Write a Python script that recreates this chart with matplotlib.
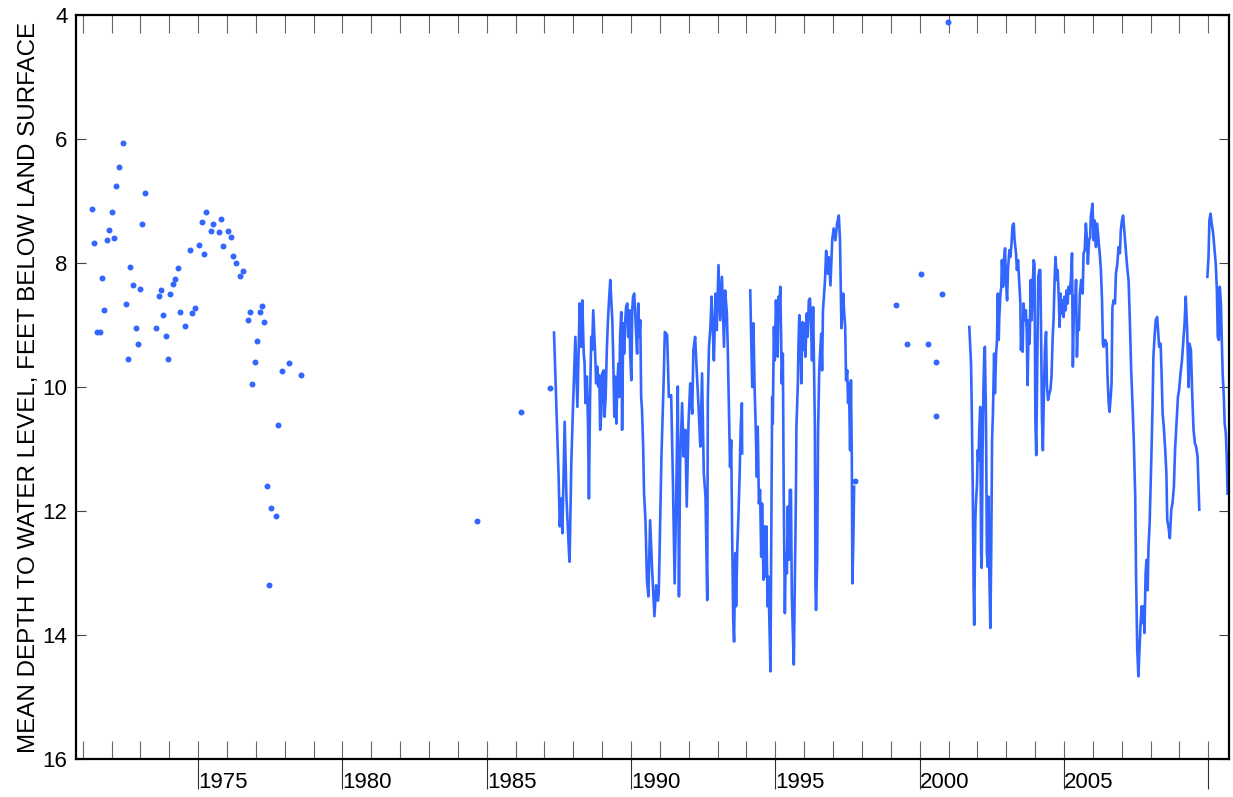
import numpy as np
import matplotlib.pyplot as plt
from matplotlib.ticker import FixedLocator, MultipleLocator

plt.rcParams['font.family'] = ['Liberation Sans', 'DejaVu Sans']

# periodic (discrete) measurements
point_years = [1971.33, 1971.40, 1971.48, 1971.59, 1971.66, 1971.75, 1971.83, 1971.91, 1972.00, 1972.08,
               1972.17, 1972.26, 1972.39, 1972.49, 1972.57, 1972.65, 1972.75, 1972.84, 1972.92, 1972.98,
               1973.07, 1973.16, 1973.54, 1973.63, 1973.72, 1973.79, 1973.88, 1973.95, 1974.04, 1974.13,
               1974.20, 1974.30, 1974.38, 1974.55, 1974.70, 1974.79, 1974.89, 1975.03, 1975.12, 1975.20,
               1975.28, 1975.46, 1975.53, 1975.71, 1975.80, 1975.87, 1976.04, 1976.13, 1976.21, 1976.32,
               1976.44, 1976.57, 1976.71, 1976.79, 1976.86, 1976.96, 1977.03, 1977.13, 1977.20, 1977.29,
               1977.38, 1977.46, 1977.53, 1977.71, 1977.78, 1977.89, 1978.14, 1978.55,
               1984.65, 1986.17, 1987.18, 1997.76,
               1999.17, 1999.56, 2000.03, 2000.30, 2000.58, 2000.58, 2000.78, 2000.99]
point_depths = [7.13, 7.68, 9.11, 9.11, 8.24, 8.75, 7.63, 7.46, 7.18, 7.60,
                6.75, 6.45, 6.06, 8.66, 9.55, 8.06, 8.35, 9.05, 9.30, 8.41,
                7.36, 6.86, 9.04, 8.53, 8.43, 8.83, 9.17, 9.54, 8.49, 8.34,
                8.25, 8.07, 8.79, 9.02, 7.78, 8.81, 8.73, 7.71, 7.33, 7.85,
                7.18, 7.48, 7.37, 7.49, 7.28, 7.72, 7.48, 7.57, 7.88, 7.99,
                8.20, 8.12, 8.92, 8.78, 9.95, 9.60, 9.25, 8.79, 8.69, 8.95,
                11.59, 13.20, 11.95, 12.08, 10.61, 9.74, 9.61, 9.81,
                12.16, 10.40, 10.01, 11.52,
                8.67, 9.31, 8.17, 9.30, 9.59, 10.47, 8.50, 4.10]

# continuous record, split where the record has gaps
seg_a_years = [1987.33, 1987.47, 1987.49, 1987.53, 1987.58, 1987.62, 1987.70, 1987.76, 1987.85, 1987.87,
               1987.93, 1987.99, 1988.07, 1988.14,
               1988.22, 1988.27, 1988.31, 1988.36, 1988.39, 1988.42, 1988.47, 1988.51, 1988.54, 1988.58,
               1988.62, 1988.65, 1988.69, 1988.72, 1988.76, 1988.79, 1988.83, 1988.86, 1988.90, 1988.93,
               1988.97, 1989.00, 1989.05, 1989.08, 1989.12, 1989.16, 1989.20, 1989.23, 1989.28, 1989.31,
               1989.35, 1989.38, 1989.42, 1989.45, 1989.49, 1989.52, 1989.56, 1989.59, 1989.62, 1989.66,
               1989.69, 1989.73, 1989.76, 1989.80, 1989.83, 1989.87, 1989.90, 1989.94, 1989.97, 1990.01,
               1990.04, 1990.07, 1990.11, 1990.14, 1990.18, 1990.21, 1990.25, 1990.28, 1990.32, 1990.35,
               1990.38, 1990.42,
               1990.45, 1990.50, 1990.55, 1990.60, 1990.66, 1990.73,
               1990.81, 1990.87, 1990.93, 1990.96, 1991.05, 1991.13, 1991.17, 1991.25, 1991.31, 1991.39,
               1991.45, 1991.51, 1991.56, 1991.62, 1991.66, 1991.70, 1991.77, 1991.82, 1991.88, 1991.93,
               1991.99, 1992.05, 1992.12, 1992.16, 1992.22, 1992.28, 1992.35, 1992.40, 1992.46, 1992.52,
               1992.58, 1992.64, 1992.66, 1992.70, 1992.75, 1992.79, 1992.83, 1992.87, 1992.93, 1992.97,
               1993.03, 1993.09, 1993.15, 1993.18, 1993.22, 1993.26, 1993.32, 1993.35, 1993.39, 1993.43,
               1993.47, 1993.50, 1993.54, 1993.57, 1993.61, 1993.64, 1993.68, 1993.72, 1993.76, 1993.80,
               1993.84, 1993.85]
seg_a_depths = [9.12, 11.18, 11.45, 12.25, 11.80, 12.36, 10.56, 11.77, 12.68, 12.82,
                11.23, 10.29, 9.19, 10.32,
                8.65, 9.35, 8.60, 9.46, 9.62, 10.26, 9.83, 10.64, 11.80, 10.16,
                9.19, 9.40, 8.76, 9.08, 9.51, 9.94, 9.67, 9.99, 9.81, 10.69,
                10.42, 9.78, 9.73, 10.48, 10.16, 9.40, 8.92, 8.65, 8.27, 8.54,
                8.92, 9.46, 10.48, 9.83, 10.59, 9.99, 9.62, 10.16, 9.19, 8.79,
                10.69, 8.97, 9.46, 8.92, 8.70, 8.65, 9.19, 8.76, 9.46, 9.89,
                8.76, 8.54, 8.49, 8.76, 9.19, 9.46, 8.65, 9.19, 8.92, 10.16,
                10.37, 10.96,
                11.72, 12.15, 13.11, 13.38, 12.15, 12.95,
                13.70, 13.20, 13.45, 13.33, 11.18, 9.89, 9.11, 9.16, 10.16, 10.13,
                11.50, 13.17, 11.93, 9.99, 13.38, 11.23, 10.26, 11.12, 10.69, 11.93,
                10.59, 9.94, 10.43, 9.40, 9.19, 9.78, 10.43, 10.96, 9.78, 11.39,
                11.77, 13.44, 10.21, 9.35, 9.03, 8.54, 9.03, 9.57, 8.49, 9.08,
                8.03, 8.92, 8.22, 8.71, 9.35, 8.44, 8.81, 9.35, 10.32, 11.29,
                10.86, 12.25, 13.76, 14.11, 12.68, 13.54, 12.63, 12.09, 11.45, 10.64,
                10.26, 11.07]

seg_b_years = [1994.13, 1994.16, 1994.20, 1994.24, 1994.28, 1994.31, 1994.36, 1994.39, 1994.43, 1994.47,
               1994.51, 1994.54, 1994.59, 1994.62, 1994.66, 1994.69, 1994.73, 1994.76, 1994.80, 1994.83,
               1994.87, 1994.89, 1994.91, 1994.95, 1994.98, 1995.02, 1995.05, 1995.08, 1995.11, 1995.14,
               1995.17, 1995.20, 1995.22, 1995.26, 1995.29, 1995.33, 1995.36, 1995.40, 1995.43, 1995.47,
               1995.50, 1995.54, 1995.57, 1995.60, 1995.64, 1995.67, 1995.70, 1995.72, 1995.73, 1995.78,
               1995.80, 1995.83, 1995.87, 1995.90, 1995.94, 1995.97, 1996.01, 1996.04, 1996.09, 1996.12,
               1996.16, 1996.20, 1996.24, 1996.27, 1996.31, 1996.34, 1996.37, 1996.39, 1996.41, 1996.45,
               1996.48, 1996.52, 1996.55, 1996.59, 1996.62, 1996.65, 1996.69, 1996.72, 1996.76, 1996.82,
               1996.85, 1996.91, 1996.97, 1997.02, 1997.08, 1997.14, 1997.20, 1997.24, 1997.29, 1997.35,
               1997.38, 1997.42, 1997.45, 1997.49, 1997.52, 1997.55, 1997.59, 1997.62, 1997.65, 1997.67,
               1997.70, 1997.73]
seg_b_depths = [8.44, 9.14, 10.00, 8.97, 10.00, 10.48, 11.45, 10.64, 11.88, 11.66,
                12.74, 11.88, 13.11, 12.25, 13.06, 12.25, 13.54, 13.06, 13.92, 14.59,
                11.61, 10.16, 10.59, 9.03, 9.57, 8.60, 8.97, 9.51, 8.54, 8.76,
                8.38, 9.19, 9.94, 9.46, 11.72, 13.65, 12.68, 13.01, 11.93, 12.79,
                11.66, 11.66, 13.33, 13.87, 14.48, 13.33, 12.25, 11.34, 10.64, 9.94,
                9.35, 8.84, 9.24, 9.94, 8.95, 9.40, 8.97, 9.51, 8.81, 9.19,
                8.60, 8.57, 9.03, 9.57, 8.71, 9.67, 10.64, 13.22, 13.60, 12.79,
                10.75, 9.73, 9.46, 9.14, 9.73, 8.76, 8.49, 8.28, 7.80, 8.17,
                7.90, 8.36, 7.63, 7.44, 7.63, 7.36, 7.23, 7.63, 9.05, 8.49,
                8.76, 9.03, 9.89, 9.73, 10.26, 9.94, 11.02, 9.89, 11.18, 13.17,
                12.52, 11.61]

seg_c_years = [2001.72, 2001.78, 2001.80, 2001.84, 2001.87, 2001.89, 2001.93, 2001.95, 2001.99, 2002.01,
               2002.04, 2002.07, 2002.10, 2002.13, 2002.15, 2002.18, 2002.21, 2002.24, 2002.26, 2002.30,
               2002.33, 2002.36, 2002.39, 2002.41, 2002.45, 2002.48, 2002.51, 2002.54, 2002.58, 2002.61,
               2002.65, 2002.68, 2002.71, 2002.74, 2002.76, 2002.80, 2002.83, 2002.85, 2002.89, 2002.92,
               2002.96, 2002.99, 2003.03, 2003.06, 2003.11, 2003.14, 2003.18, 2003.22, 2003.26, 2003.29,
               2003.34, 2003.37, 2003.41, 2003.45, 2003.49, 2003.51, 2003.55, 2003.57, 2003.60, 2003.64,
               2003.68, 2003.71, 2003.74, 2003.78, 2003.81, 2003.85, 2003.88, 2003.91, 2003.95, 2003.98,
               2004.01, 2004.04, 2004.08, 2004.11, 2004.15, 2004.18, 2004.20, 2004.24, 2004.27, 2004.31,
               2004.34, 2004.38, 2004.41, 2004.45, 2004.48, 2004.53, 2004.57, 2004.61, 2004.64, 2004.68,
               2004.71, 2004.75, 2004.78, 2004.82, 2004.85, 2004.88, 2004.92, 2004.95, 2004.99, 2005.02,
               2005.06, 2005.09, 2005.13, 2005.16, 2005.20, 2005.24, 2005.28, 2005.31, 2005.35, 2005.38,
               2005.42, 2005.45, 2005.48, 2005.52, 2005.55, 2005.60, 2005.65, 2005.68, 2005.72, 2005.76,
               2005.80, 2005.83, 2005.87, 2005.91, 2005.93, 2005.99, 2006.03, 2006.06, 2006.11, 2006.15,
               2006.20, 2006.25, 2006.28, 2006.32, 2006.35, 2006.38, 2006.43, 2006.48, 2006.51, 2006.55,
               2006.58, 2006.62, 2006.65, 2006.68, 2006.72, 2006.77, 2006.80, 2006.85, 2006.89, 2006.94,
               2006.97, 2007.01, 2007.05, 2007.10, 2007.15, 2007.19, 2007.24, 2007.28, 2007.33, 2007.38,
               2007.42, 2007.47, 2007.50, 2007.54, 2007.58, 2007.62, 2007.65, 2007.69, 2007.72, 2007.76,
               2007.79, 2007.83, 2007.86, 2007.90, 2007.93, 2007.97, 2008.00, 2008.03, 2008.07, 2008.10,
               2008.14, 2008.18, 2008.23, 2008.27, 2008.30, 2008.35, 2008.38, 2008.42, 2008.46, 2008.51,
               2008.55, 2008.58, 2008.62, 2008.67, 2008.72, 2008.76, 2008.81, 2008.85, 2008.90, 2008.95,
               2008.99, 2009.04, 2009.09, 2009.13, 2009.18, 2009.22, 2009.27, 2009.32, 2009.35, 2009.40,
               2009.44, 2009.49, 2009.54, 2009.58, 2009.63, 2009.66, 2009.69]
seg_c_depths = [9.03, 9.62, 10.16, 11.61, 13.22, 13.84, 12.15, 11.88, 11.55, 11.02,
                11.18, 10.64, 10.32, 12.68, 12.92, 11.07, 10.05, 9.46, 9.35, 10.53,
                12.68, 12.90, 11.77, 12.90, 13.89, 12.68, 10.85, 10.42, 9.46, 10.10,
                9.46, 9.24, 8.49, 9.24, 8.87, 8.49, 8.38, 7.95, 8.38, 7.95,
                7.76, 8.27, 8.60, 8.11, 7.79, 7.90, 7.71, 7.39, 7.36, 7.63,
                7.84, 8.11, 7.95, 8.30, 8.65, 9.40, 9.08, 9.43, 8.65, 8.92,
                8.76, 9.08, 9.97, 8.92, 9.30, 8.27, 8.92, 8.49, 7.95, 8.01,
                10.53, 11.10, 9.46, 8.22, 8.11, 8.11, 8.81, 10.53, 11.02, 9.99,
                9.40, 9.11, 9.99, 10.21, 10.13, 10.05, 9.83, 9.19, 8.92, 8.22,
                7.90, 8.27, 8.11, 8.54, 9.03, 8.49, 8.81, 8.60, 8.87, 8.54,
                8.76, 8.44, 8.65, 8.38, 8.49, 8.27, 7.84, 9.67, 8.54, 8.81,
                8.27, 9.51, 9.03, 9.08, 8.49, 8.27, 8.49, 7.84, 7.79, 7.36,
                7.63, 8.01, 7.63, 7.58, 7.25, 7.04, 7.63, 7.31, 7.74, 7.36,
                7.63, 7.90, 8.11, 8.60, 9.30, 9.35, 9.24, 9.30, 9.83, 10.26,
                10.40, 10.16, 9.94, 8.71, 8.60, 8.65, 8.17, 8.01, 7.74, 7.84,
                7.47, 7.31, 7.23, 7.52, 7.79, 8.06, 8.28, 8.87, 9.73, 10.32,
                10.86, 11.77, 13.06, 14.24, 14.67, 14.19, 13.87, 13.54, 13.81, 13.54,
                13.97, 13.01, 12.79, 13.28, 12.58, 12.20, 11.66, 11.12, 10.32, 9.51,
                9.19, 8.92, 8.87, 9.14, 9.35, 9.30, 9.73, 10.43, 10.64, 11.02,
                11.39, 12.15, 12.25, 12.44, 11.98, 11.88, 11.61, 11.02, 10.59, 10.16,
                10.05, 9.78, 9.57, 9.30, 8.97, 8.54, 9.08, 10.00, 9.30, 9.40,
                10.05, 10.69, 10.91, 10.96, 11.12, 11.55, 11.98]

seg_d_years = [2009.97, 2010.01, 2010.04, 2010.08, 2010.12, 2010.17, 2010.22, 2010.26, 2010.30, 2010.33,
               2010.37, 2010.40, 2010.44, 2010.47, 2010.50, 2010.54, 2010.57, 2010.61, 2010.64, 2010.67]
seg_d_depths = [8.22, 7.90, 7.31, 7.20, 7.36, 7.52, 7.79, 8.01, 8.44, 9.19,
                9.24, 8.38, 8.65, 9.24, 9.78, 10.16, 10.59, 10.75, 11.12, 11.72]

year_ticks = [1975, 1980, 1985, 1990, 1995, 2000, 2005, 2010]
year_labels = ['1975', '1980', '1985', '1990', '1995', '2000', '2005', '']
depth_ticks = [4, 6, 8, 10, 12, 14, 16]

blue = '#3366ff'

fig = plt.figure(figsize=(12.33, 7.97), dpi=100)
ax = fig.add_axes([0.0616, 0.0481, 0.9354, 0.9325])

for yrs, dep in [(seg_a_years, seg_a_depths), (seg_b_years, seg_b_depths),
                 (seg_c_years, seg_c_depths), (seg_d_years, seg_d_depths)]:
    ax.plot(yrs, dep, color=blue, linewidth=1.9)
ax.plot(point_years, point_depths, linestyle='none', marker='o', markersize=4.3,
        markeredgewidth=0, color=blue)

ax.set_xlim(1970.765, 2010.73)
ax.set_ylim(16, 4)

ax.xaxis.set_major_locator(FixedLocator(year_ticks))
ax.set_xticklabels(year_labels)
ax.xaxis.set_minor_locator(MultipleLocator(1))
ax.xaxis.remove_overlapping_locs = False
ax.tick_params(axis='x', which='major', direction='out', length=21.6, width=0.8,
               color='#333333', pad=-12.2, labelsize=16, top=False)
ax.tick_params(axis='x', which='minor', direction='in', length=12.7, width=0.8,
               color='#666666', top=True, bottom=True)
for lab in ax.get_xticklabels():
    lab.set_horizontalalignment('left')

ax.set_yticks(depth_ticks)
ax.tick_params(axis='y', direction='in', length=7.2, width=0.8, color='#444444',
               left=True, right=True, labelsize=16, pad=6)

for sp in ax.spines.values():
    sp.set_linewidth(1.6)
    sp.set_color('black')

ax.set_ylabel("MEAN DEPTH TO WATER LEVEL, FEET BELOW LAND SURFACE", fontsize=17.4)
ax.yaxis.set_label_coords(-0.031, 0.5)

fig.savefig("out.png", dpi=100)
plt.close(fig)
